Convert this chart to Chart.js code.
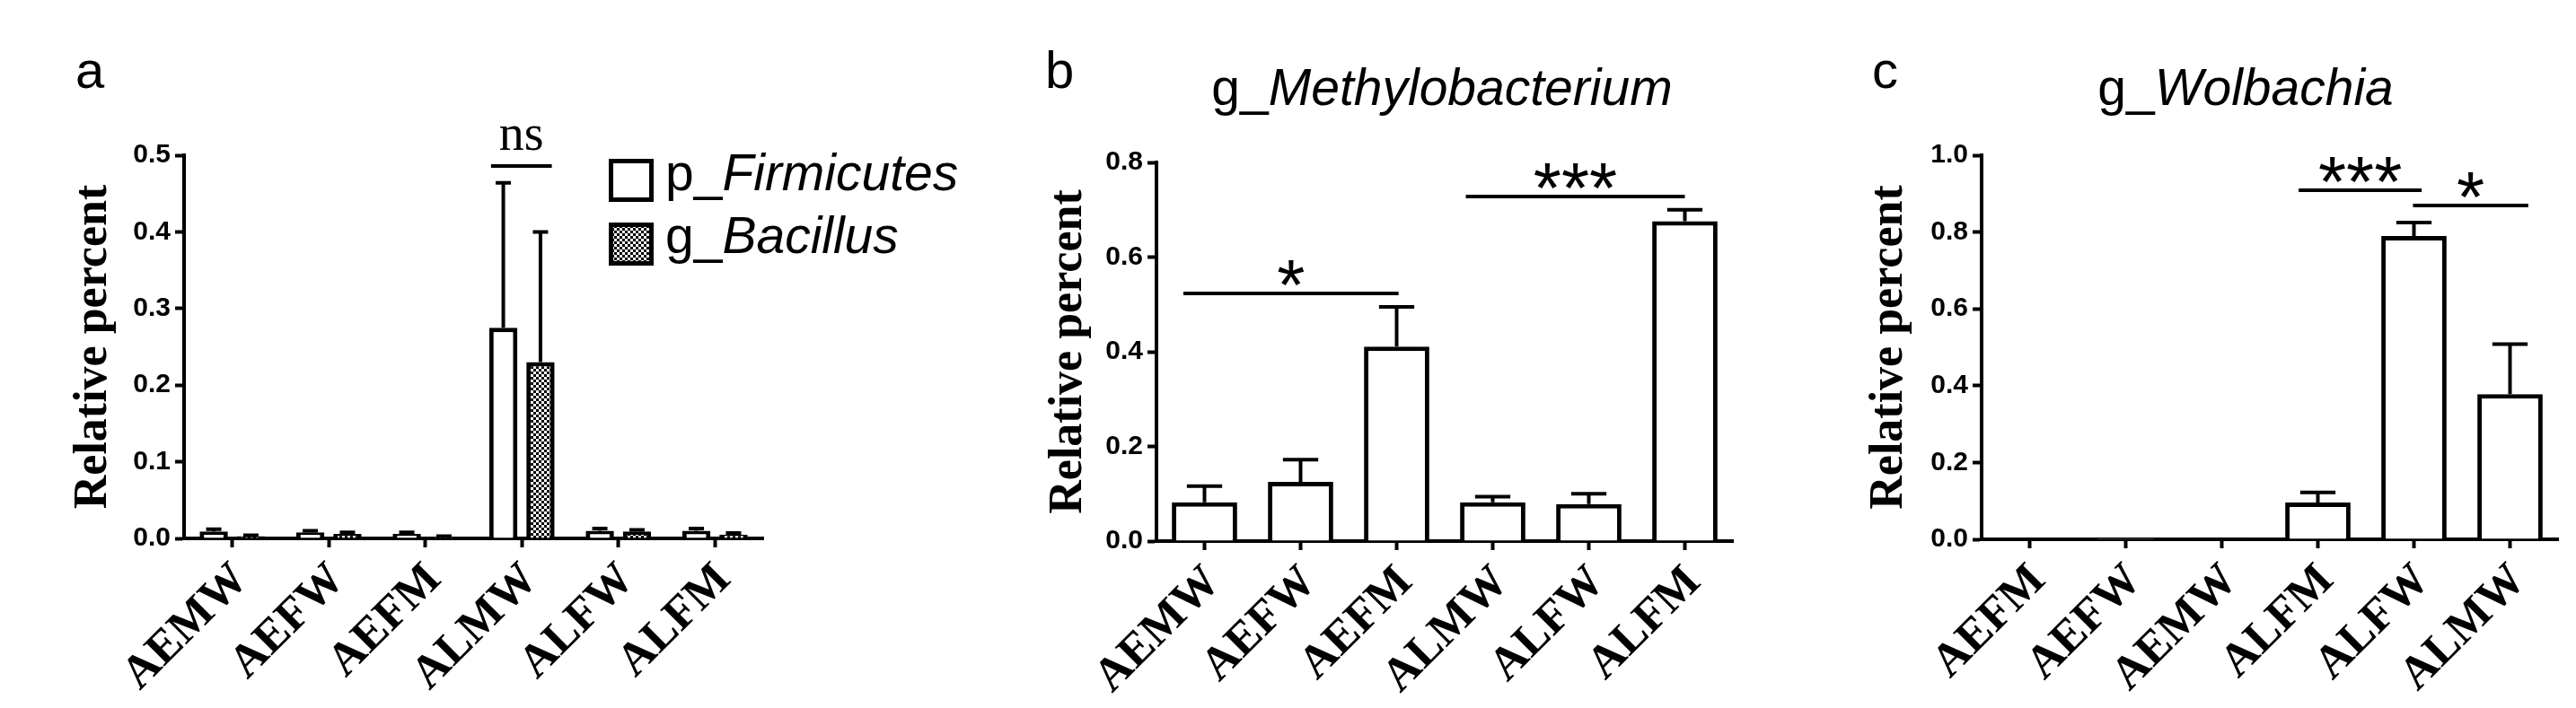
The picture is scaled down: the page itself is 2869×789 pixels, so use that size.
<!DOCTYPE html>
<html>
<head>
<meta charset="utf-8">
<title>Relative percent</title>
<script src="https://cdn.jsdelivr.net/npm/chart.js@4.4.1/dist/chart.umd.min.js"></script>
<style>
    body {
        margin: 0;
        width: 2869px;
        height: 789px;
        position: relative;
        overflow: hidden;
        background: #fff;
        font-family: 'Liberation Sans', Arial, sans-serif;
        color: #000;
    }
    canvas { position: absolute; top: 0; }
    .txt { position: absolute; white-space: nowrap; line-height: 1; }
    .letter { font-size: 58px; top: 49px; }
    .title { font-size: 57px; top: 69px; transform: translateX(-50%); }
    .legend { font-size: 57px; left: 741px; }
    .swatch { position: absolute; left: 678px; width: 50px; height: 48px; box-sizing: border-box; border: 5px solid #000; background: #fff; }
    i { font-style: italic; }
</style>
</head>
<body>
<canvas id="chartA" width="880" height="789" style="left:0px"></canvas>
<canvas id="chartB" width="950" height="789" style="left:1000px"></canvas>
<canvas id="chartC" width="919" height="789" style="left:1950px"></canvas>

<div class="txt letter" style="left:84px">a</div>
<div class="txt letter" style="left:1164px">b</div>
<div class="txt letter" style="left:2085px">c</div>
<div class="txt title" style="left:1606px">g_<i>Methylobacterium</i></div>
<div class="txt title" style="left:2501px">g_<i>Wolbachia</i></div>

<div class="swatch" style="top:177px"></div>
<canvas id="swatchB" width="50" height="48" style="left:678px;top:248px"></canvas>
<div class="txt legend" style="top:164px">p_<i>Firmicutes</i></div>
<div class="txt legend" style="top:234px">g_<i>Bacillus</i></div>

<script>
// panel a: p_Firmicutes / g_Bacillus
const catsA = ['AEMW', 'AEFW', 'AEFM', 'ALMW', 'ALFW', 'ALFM'];
const firmicutes = [0.009, 0.008, 0.006, 0.275, 0.010, 0.010];
const firmicutesErr = [0.003, 0.002, 0.002, 0.189, 0.003, 0.003];
const bacillus = [0.003, 0.006, 0.002, 0.230, 0.009, 0.005];
const bacillusErr = [0.001, 0.002, 0.001, 0.170, 0.002, 0.002];
const ticksA = [0, 0.1, 0.2, 0.3, 0.4, 0.5];
const sigA = [{ from: 2.68, to: 3.31, y: 0.486, label: 'ns' }];

// panel b: g_Methylobacterium
const catsB = ['AEMW', 'AEFW', 'AEFM', 'ALMW', 'ALFW', 'ALFM'];
const methylo = [0.082, 0.125, 0.411, 0.082, 0.078, 0.676];
const methyloErr = [0.034, 0.047, 0.084, 0.012, 0.022, 0.024];
const ticksB = [0, 0.2, 0.4, 0.6, 0.8];
const sigB = [
    { from: -0.22, to: 2.02, y: 0.523, label: '*' },
    { from: 2.72, to: 5.0, y: 0.728, label: '***' }
];

// panel c: g_Wolbachia
const catsC = ['AEFM', 'AEFW', 'AEMW', 'ALFM', 'ALFW', 'ALMW'];
const wolbachia = [0, 0.004, 0.002, 0.096, 0.790, 0.378];
const wolbachiaErr = [0, 0, 0, 0.026, 0.035, 0.130];
const ticksC = [0, 0.2, 0.4, 0.6, 0.8, 1.0];
const sigC = [
    { from: 2.80, to: 4.08, y: 0.909, label: '***' },
    { from: 3.99, to: 5.19, y: 0.869, label: '*' }
];

Chart.defaults.color = '#000';
Chart.defaults.font.family = "'Liberation Sans', Arial, sans-serif";

function makePattern(ctx) {
    const c = document.createElement('canvas');
    c.width = 6;
    c.height = 6;
    const g = c.getContext('2d');
    g.fillStyle = '#000';
    g.fillRect(0, 0, 6, 6);
    g.fillStyle = '#fff';
    g.fillRect(0, 0, 3, 3);
    g.fillRect(3, 3, 3, 3);
    return ctx.createPattern(c, 'repeat');
}

// one-sided (upper) error bars from the dataset's errors array
const errorBars = {
    id: 'errorBars',
    afterDatasetsDraw(chart) {
        const ctx = chart.ctx;
        const yScale = chart.scales.y;
        ctx.save();
        ctx.strokeStyle = '#000';
        ctx.lineWidth = 4;
        chart.data.datasets.forEach((ds, i) => {
            chart.getDatasetMeta(i).data.forEach((bar, j) => {
                const err = ds.errors[j];
                if (!err) return;
                const top = yScale.getPixelForValue(ds.data[j] + err);
                const half = bar.width * 0.27;
                ctx.beginPath();
                ctx.moveTo(bar.x, bar.y);
                ctx.lineTo(bar.x, top);
                ctx.moveTo(bar.x - half, top);
                ctx.lineTo(bar.x + half, top);
                ctx.stroke();
            });
        });
        ctx.restore();
    }
};

// significance lines with their labels
const sigMarks = {
    id: 'sig',
    afterDraw(chart, args, opts) {
        const { ctx, scales: { x, y } } = chart;
        ctx.save();
        ctx.strokeStyle = '#000';
        ctx.fillStyle = '#000';
        ctx.lineWidth = 4;
        ctx.font = opts.font;
        ctx.textAlign = 'center';
        ctx.textBaseline = 'alphabetic';
        (opts.items || []).forEach(m => {
            const x0 = x.getPixelForValue(m.from);
            const x1 = x.getPixelForValue(m.to);
            const py = y.getPixelForValue(m.y);
            ctx.beginPath();
            ctx.moveTo(x0, py);
            ctx.lineTo(x1, py);
            ctx.stroke();
            ctx.fillText(m.label, (x0 + x1) / 2, py + opts.dy);
        });
        ctx.restore();
    }
};

function buildPanel(id, cats, datasets, ticks, yMax, box) {
    const config = {
        type: 'bar',
        data: { labels: cats, datasets },
        plugins: [errorBars, sigMarks],
        options: {
            responsive: false,
            animation: false,
            layout: { padding: { left: 0, top: box.top, right: box.right, bottom: 0 } },
            scales: {
                x: {
                    z: 1,
                    afterFit: s => { s.height = box.xHeight; },
                    grid: {
                        drawOnChartArea: false,
                        offset: false,
                        tickLength: 10,
                        tickWidth: 4,
                        color: '#000'
                    },
                    border: { display: true, color: '#000', width: 4 },
                    ticks: {
                        autoSkip: false,
                        minRotation: 45,
                        maxRotation: 45,
                        padding: 6,
                        labelOffset: 10,
                        font: { family: "'Liberation Serif', 'Times New Roman', serif", weight: 'bold', size: 52 }
                    }
                },
                y: {
                    z: 1,
                    min: 0,
                    max: yMax,
                    afterFit: s => { s.width = box.yWidth; },
                    afterBuildTicks: s => { s.ticks = ticks.map(v => ({ value: v })); },
                    grid: {
                        drawOnChartArea: false,
                        tickLength: 10,
                        tickWidth: 4,
                        color: '#000'
                    },
                    border: { display: true, color: '#000', width: 4 },
                    ticks: {
                        padding: 5,
                        font: { weight: 'bold', size: 30 },
                        callback: v => v.toFixed(1)
                    },
                    title: {
                        display: true,
                        text: 'Relative percent',
                        padding: { top: box.titlePad, bottom: 0 },
                        font: { family: "'Liberation Serif', 'Times New Roman', serif", weight: 'bold', size: 52, lineHeight: 1 }
                    }
                }
            },
            plugins: {
                legend: { display: false },
                tooltip: { enabled: false },
                sig: box.sig
            }
        }
    };
    return new Chart(document.getElementById(id), config);
}

const ctxA = document.getElementById('chartA').getContext('2d');
const checker = makePattern(ctxA);

buildPanel('chartA', catsA, [
    {
        label: 'p_Firmicutes',
        data: firmicutes,
        errors: firmicutesErr,
        backgroundColor: '#fff',
        borderColor: '#000',
        borderWidth: 5,
        categoryPercentage: 0.77,
        barPercentage: 0.76
    },
    {
        label: 'g_Bacillus',
        data: bacillus,
        errors: bacillusErr,
        backgroundColor: checker,
        borderColor: '#000',
        borderWidth: 5,
        categoryPercentage: 0.77,
        barPercentage: 0.76
    }
], ticksA, 0.5, {
    top: 173, right: 30, yWidth: 205, xHeight: 189, titlePad: 79,
    sig: { items: sigA, font: "56px 'Liberation Serif', 'Times New Roman', serif", dy: -18 }
});

buildPanel('chartB', catsB, [{
    label: 'g_Methylobacterium',
    data: methylo,
    errors: methyloErr,
    backgroundColor: '#fff',
    borderColor: '#000',
    borderWidth: 5,
    categoryPercentage: 1,
    barPercentage: 0.68
}], ticksB, 0.8, {
    top: 181, right: 20, yWidth: 288, xHeight: 186, titlePad: 165,
    sig: { items: sigB, font: "80px 'Liberation Sans', Arial, sans-serif", dy: 18 }
});

buildPanel('chartC', catsC, [{
    label: 'g_Wolbachia',
    data: wolbachia,
    errors: wolbachiaErr,
    backgroundColor: '#fff',
    borderColor: '#000',
    borderWidth: 5,
    categoryPercentage: 1,
    barPercentage: 0.68
}], ticksC, 1.0, {
    top: 173, right: 20, yWidth: 257, xHeight: 188, titlePad: 129,
    sig: { items: sigC, font: "80px 'Liberation Sans', Arial, sans-serif", dy: 18 }
});

// legend swatch for the checkered series
const sw = document.getElementById('swatchB').getContext('2d');
sw.fillStyle = makePattern(sw);
sw.fillRect(0, 0, 50, 48);
sw.strokeStyle = '#000';
sw.lineWidth = 5;
sw.strokeRect(2.5, 2.5, 45, 43);
</script>
</body>
</html>
